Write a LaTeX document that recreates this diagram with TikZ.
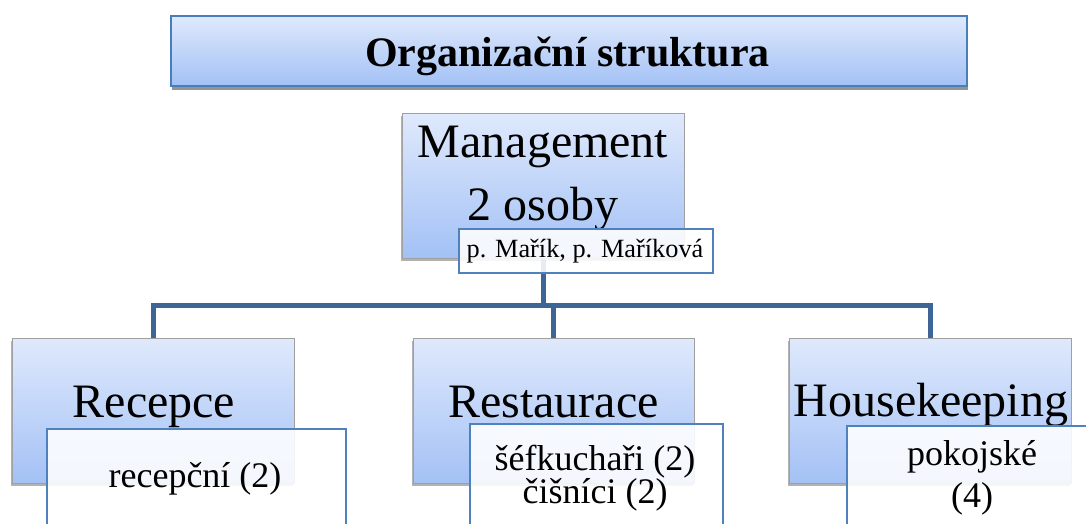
\documentclass[tikz,border=0pt]{standalone}
\usepackage{fontspec}
\setmainfont{Liberation Serif}
\usetikzlibrary{shadows}
\definecolor{boxtop}{HTML}{DFE9FC}
\definecolor{boxbot}{HTML}{A3C1F5}
\definecolor{boxgray}{HTML}{A0A0A0}
\definecolor{subblue}{HTML}{4F81BD}
\definecolor{titleblue}{HTML}{4A7EBB}
\definecolor{connblue}{HTML}{3D6697}
\begin{document}
\begin{tikzpicture}[x=1pt,y=-1pt,
  unitbox/.style={draw=boxgray, line width=0.8pt, top color=boxtop, bottom color=boxbot,
    inner sep=0pt, anchor=north west,
    drop shadow={shadow xshift=-1pt, shadow yshift=-3pt, opacity=0.3, fill=black}},
  titlebox/.style={draw=titleblue, line width=1.8pt, top color=boxtop, bottom color=boxbot,
    inner sep=0pt, anchor=north west,
    drop shadow={shadow xshift=1pt, shadow yshift=-4pt, opacity=0.6, fill=black!70}},
  subbox/.style={draw=subblue, line width=1.7pt, fill=white, fill opacity=0.88,
    text opacity=1, inner sep=0pt, anchor=north west},
  conn/.style={draw=connblue, line width=5pt},
  bigtext/.style={anchor=base, inner sep=0pt, font=\fontsize{48}{56}\selectfont},
  smalltext/.style={anchor=base, inner sep=0pt, font=\fontsize{36}{42}\selectfont}
]
\useasboundingbox (0,0) rectangle (1086,523);

% title
\node[titlebox, minimum width=796, minimum height=70] (title) at (170,15) {};
\node[anchor=base, inner sep=0pt, font=\fontsize{42}{50}\selectfont\bfseries] (titletext) at (567.5,66) {Organizační struktura};

% boxes and connectors
\coordinate (bar) at (542,305);
\node[unitbox, minimum width=282, minimum height=145] (mgmt) at (402,113) {};
\node[unitbox, minimum width=282, minimum height=145] (rec) at (12,338) {};
\node[unitbox, minimum width=281, minimum height=145] (rest) at (413,338) {};
\node[unitbox, minimum width=282, minimum height=145] (hk) at (789,338) {};
\draw[conn] (mgmt.south) -- (mgmt.south |- bar);
\draw[conn] (rec.north) |- (bar) -| (hk.north);
\draw[conn] (rest.north) -- (rest.north |- bar);

% main texts
\node[bigtext] (tmg) at (543,157) {Management};
\node[bigtext] (tos) at (543,220) {2 osoby};
\node[bigtext] (trec) at (154,417) {Recepce};
\node[bigtext] (trest) at (553.5,417) {Restaurace};
\node[bigtext] (thk) at (931,416) {Housekeeping};

% sub boxes
\node[subbox, minimum width=254, minimum height=44] (mgsub) at (458,228) {};
\node[anchor=base, inner sep=0pt, font=\fontsize{26.3}{30}\selectfont] (tmgsub) at (585,257) {p. Mařík, p. Maříková};

\node[subbox, minimum width=299, minimum height=110] (recsub) at (46,428) {};
\node[smalltext] (trecsub) at (195,487) {recepční (2)};

\node[subbox, minimum width=253, minimum height=110] (restsub) at (469,423) {};
\node[smalltext] (trs1) at (595,470) {šéfkuchaři (2)};
\node[smalltext] (trs2) at (595,503) {čišníci (2)};

\node[subbox, minimum width=260, minimum height=110] (hksub) at (846,425) {};
\node[smalltext] (thk1) at (972,465) {pokojské};
\node[smalltext] (thk2) at (972,507) {(4)};
\end{tikzpicture}
\end{document}
